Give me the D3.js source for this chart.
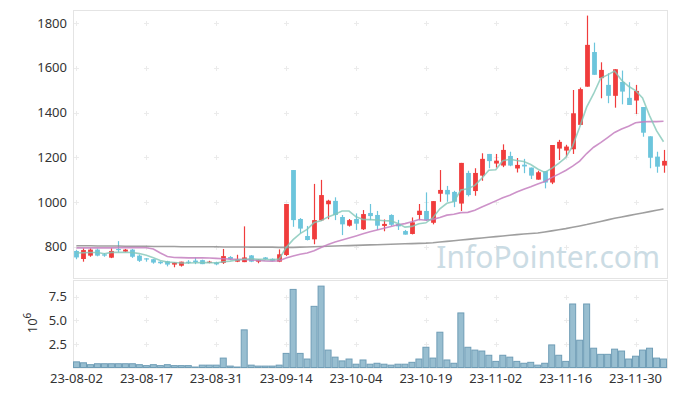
<!DOCTYPE html>
<html>
<head>
<meta charset="utf-8">
<script src="https://cdn.jsdelivr.net/npm/d3@7"></script>
<style>
  body { margin: 0; background: #fff; }
  svg { display: block; font-family: "Noto Sans", sans-serif; }
</style>
</head>
<body>
<svg id="chart" width="677" height="396"></svg>
<script>
const dates = [
  "23-08-02","23-08-03","23-08-04","23-08-07","23-08-08","23-08-09","23-08-10","23-08-11","23-08-14","23-08-16",
  "23-08-17","23-08-18","23-08-21","23-08-22","23-08-23","23-08-24","23-08-25","23-08-28","23-08-29","23-08-30",
  "23-08-31","23-09-01","23-09-04","23-09-05","23-09-06","23-09-07","23-09-08","23-09-11","23-09-12","23-09-13",
  "23-09-14","23-09-15","23-09-18","23-09-19","23-09-20","23-09-21","23-09-22","23-09-25","23-09-26","23-09-27",
  "23-10-04","23-10-05","23-10-06","23-10-10","23-10-11","23-10-12","23-10-13","23-10-16","23-10-17","23-10-18",
  "23-10-19","23-10-20","23-10-23","23-10-24","23-10-25","23-10-26","23-10-27","23-10-30","23-10-31","23-11-01",
  "23-11-02","23-11-03","23-11-06","23-11-07","23-11-08","23-11-09","23-11-10","23-11-13","23-11-14","23-11-15",
  "23-11-16","23-11-17","23-11-20","23-11-21","23-11-22","23-11-23","23-11-24","23-11-27","23-11-28","23-11-29",
  "23-11-30","23-12-01","23-12-04","23-12-05","23-12-06"
];

const opens = [
  781,745,760,787,766,751,790,778,787,760, 748,744,733,735,720,715,733,738,740,729,
  730,728,754,733,731,761,733,752,746,733, 763,1143,924,848,833,918,990,1005,933,894,
  924,878,951,942,893,942,902,870,857,942, 960,907,1037,1054,1045,993,1130,1049,1118,1215,
  1172,1163,1206,1150,1167,1154,1100,1138,1087,1239, 1230,1236,1345,1516,1671,1554,1524,1475,1537,1466,
  1454,1425,1294,1203,1163
];
const highs = [
  785,793,793,792,772,793,825,790,790,765, 749,745,735,737,731,733,740,751,742,737,
  733,790,758,764,891,763,744,754,748,788, 991,1143,928,893,1081,1099,1010,1021,942,924,
  949,964,991,960,922,945,920,875,931,991, 1043,1004,1143,1072,1050,1175,1140,1151,1218,1215,
  1215,1258,1225,1197,1193,1154,1140,1138,1255,1278, 1256,1501,1512,1834,1713,1625,1576,1594,1588,1536,
  1524,1425,1294,1225,1233
];
const lows = [
  744,733,755,757,755,749,775,776,750,732, 733,724,722,712,708,711,723,722,722,726,
  717,723,740,731,731,731,726,742,735,731, 758,889,860,828,811,915,923,919,852,890,
  875,875,919,875,869,893,875,854,855,919, 915,900,1001,1001,977,960,1025,1028,1095,1151,
  1154,1156,1160,1132,1129,1103,1100,1061,1080,1188, 1203,1215,1345,1516,1569,1464,1442,1422,1437,1434,
  1394,1292,1151,1131,1131
];
const closes = [
  752,785,787,760,760,781,786,787,755,737, 744,729,726,720,729,733,729,731,722,733,
  721,758,744,745,752,733,742,745,737,766, 991,919,881,830,919,1031,1006,942,900,919,
  903,946,937,894,902,898,891,854,909,961, 919,1004,1054,1034,1001,1175,1031,1130,1193,1183,
  1185,1233,1163,1166,1159,1118,1133,1087,1255,1269, 1248,1397,1505,1703,1569,1591,1475,1594,1494,1434,
  1497,1310,1198,1158,1184
];
// volume in millions of shares
const volumes = [
  0.6,0.5,0.3,0.4,0.4,0.4,0.4,0.4,0.4,0.3, 0.2,0.3,0.2,0.3,0.2,0.2,0.2,0.05,0.25,0.25,
  0.25,1.0,0.15,0.05,4.0,0.25,0.15,0.15,0.15,0.25, 1.5,8.3,1.5,0.9,6.5,8.65,1.85,1.1,0.7,0.9,
  0.35,0.8,0.35,0.45,0.35,0.25,0.35,0.35,0.55,0.9, 2.15,1.0,3.75,0.8,0.45,5.8,2.15,1.85,1.75,1.3,
  0.65,1.3,1.1,0.65,0.45,0.55,0.25,0.45,2.4,1.3, 0.65,6.75,2.9,6.75,2.05,1.4,1.4,1.95,1.75,0.9,
  1.2,1.85,2.05,1.0,0.9
];

// moving average lines
const ma5 = [
  772,773,774,774,768.8,774.6,774.8,774.8,773.8,769.2, 761.8,750.4,738.2,731.2,729.6,727.4,727.4,728.4,728.8,729.6,
  727.2,733,735.6,740.2,744,746.4,743.2,743.4,741.8,744.6, 796.2,831.6,858.8,877.4,908,916,933.4,945.6,959.6,959.6,
  934,922,921,919.8,916.4,915.4,904.4,887.8,890.8,902.6, 906.8,929.4,969.4,994.4,1002.4,1053.6,1059,1074.2,1106,1142.4,
  1144.4,1184.8,1191.4,1186,1181.2,1167.8,1147.8,1132.6,1150.4,1172.4, 1198.4,1251.2,1334.8,1424.4,1484.4,1553,1568.6,1586.4,1544.6,1517.6,
  1498.8,1465.8,1386.6,1319.4,1269.4
];
const ma20 = [
  795,795,795,795,795,795,796,796,796,796, 795,790,772,756,752,751,750,750,750,749.3,
  747.8,746.4,744.3,743.5,743.1,740.7,738.5,736.4,735.5,737, 749.3,758.8,766.6,772,781.6,796.5,810.3,820.9,829.8,839,
  848.2,857.6,867.2,874.7,882.2,890.4,897.9,903.3,911.9,921.7, 918.1,922.3,931,941.2,945.3,952.5,953.7,963.1,977.8,991,
  1005,1019.4,1030.7,1044.3,1057.2,1068.2,1080.3,1091.9,1109.2,1124.6, 1141.1,1160.7,1183.3,1216.7,1245.1,1265.9,1288.1,1311.3,1326.4,1338.9,
  1354.5,1358.4,1360.1,1359.7,1361
];
const ma120 = [
  804,804,804,803,803,803,803,802,802,802, 802,801,801,801,801,800,800,800,800,800,
  800,799,799,799,799,798,798,798,798,797, 797,797,798,799,800,801,802,803,804,805,
  806,807,808,809,810,811,812,813,814,815, 816,818,821,824,827,830,833,836,839,842,
  845,848,851,854,857,859,861,866,871,876, 881,887,893,899,906,913,920,927,933,939,
  945,951,957,963,969
];

const priceTicks = [800, 1000, 1200, 1400, 1600, 1800];
const volTicks = [2.5, 5.0, 7.5];
const tickDates = ["23-08-02","23-08-17","23-08-31","23-09-14","23-10-04","23-10-19","23-11-02","23-11-16","23-11-30"];

const svg = d3.select("#chart");
const left = 73, right = 667;
const priceTop = 10, priceBottom = 278;
const volTop = 280, volBottom = 367.5;

const x = d3.scaleBand().domain(dates).range([left, right]).padding(0);
const bw = x.bandwidth();
const cx = d => x(d) + bw / 2;

const yP = d3.scaleLinear().domain([660, 1859]).range([priceBottom, priceTop]);
const yV = d3.scaleLinear().domain([0, 9.3]).range([volBottom, volTop]);

const data = dates.map((d, i) => ({
  date: d, open: opens[i], high: highs[i], low: lows[i], close: closes[i], vol: volumes[i]
}));

const up = "#f03c3c", down = "#6cc5dc";

// frames
svg.append("rect")
  .attr("x", left + 0.5).attr("y", priceTop + 0.5)
  .attr("width", right - left).attr("height", priceBottom - priceTop)
  .attr("fill", "none").attr("stroke", "#e4e4e4");
svg.append("rect")
  .attr("x", left + 0.5).attr("y", volTop + 0.5)
  .attr("width", right - left).attr("height", volBottom - volTop)
  .attr("fill", "none").attr("stroke", "#e4e4e4");

// grid crosses
function crosses(yScale, ticks) {
  const g = svg.append("g").attr("stroke", "#ebebeb").attr("stroke-width", 1);
  tickDates.forEach(t => {
    ticks.forEach(v => {
      const px = Math.round(cx(t)) + 0.5, py = Math.round(yScale(v)) + 0.5;
      g.append("line").attr("x1", px - 2.5).attr("x2", px + 2.5).attr("y1", py).attr("y2", py);
      g.append("line").attr("x1", px).attr("x2", px).attr("y1", py - 2.5).attr("y2", py + 2.5);
    });
  });
}
crosses(yP, priceTicks);
crosses(yV, volTicks);

// watermark
svg.append("text")
  .attr("x", 660).attr("y", 268)
  .attr("text-anchor", "end")
  .attr("font-size", 30)
  .attr("fill", "#c3d6e0")
  .attr("opacity", 0.85)
  .text("InfoPointer.com");

// candles
const candles = svg.append("g");
candles.selectAll("line")
  .data(data)
  .enter()
  .append("line")
  .attr("x1", d => Math.round(cx(d.date)) + 0.5)
  .attr("x2", d => Math.round(cx(d.date)) + 0.5)
  .attr("y1", d => yP(d.high))
  .attr("y2", d => yP(d.low))
  .attr("stroke", d => d.close >= d.open ? up : down)
  .attr("stroke-width", 1.2);

candles.selectAll("rect")
  .data(data)
  .enter()
  .append("rect")
  .attr("x", d => Math.round(cx(d.date)) + 0.5 - 2.4)
  .attr("width", 4.8)
  .attr("y", d => yP(Math.max(d.open, d.close)))
  .attr("height", d => Math.max(1.2, Math.abs(yP(d.open) - yP(d.close))))
  .attr("fill", d => d.close >= d.open ? up : down);

// moving averages
function maLine(values, color, width, opacity) {
  const line = d3.line()
    .x((v, i) => cx(dates[i]))
    .y(v => yP(v));
  svg.append("path")
    .datum(values)
    .attr("d", line)
    .attr("fill", "none")
    .attr("stroke", color)
    .attr("stroke-width", width)
    .attr("opacity", opacity);
}
maLine(ma120, "#8e8e8e", 1.6, 0.85);
maLine(ma20, "#c47fbf", 1.6, 0.85);
maLine(ma5, "#82c7b8", 1.6, 0.8);

// volume bars
svg.append("g")
  .selectAll("rect")
  .data(data)
  .enter()
  .append("rect")
  .attr("x", d => x(d.date) + 0.5)
  .attr("width", bw - 1)
  .attr("y", d => yV(d.vol))
  .attr("height", d => volBottom - yV(d.vol))
  .attr("fill", "#98bed0")
  .attr("stroke", "#6f9db6")
  .attr("stroke-width", 1);

// axis labels
const labels = svg.append("g").attr("fill", "#333").attr("font-size", 13);
priceTicks.forEach(v => {
  labels.append("text")
    .attr("x", 67).attr("y", yP(v)).attr("dy", "0.35em")
    .attr("text-anchor", "end").text(v);
});
volTicks.forEach(v => {
  labels.append("text")
    .attr("x", 67).attr("y", yV(v)).attr("dy", "0.35em")
    .attr("text-anchor", "end").text(d3.format(".1f")(v));
});
tickDates.forEach(t => {
  labels.append("text")
    .attr("x", cx(t)).attr("y", 383)
    .attr("text-anchor", "middle").text(t);
});

const unit = labels.append("text")
  .attr("transform", "translate(37,323) rotate(-90)")
  .attr("text-anchor", "middle");
unit.append("tspan").text("10");
unit.append("tspan").attr("dy", -6).attr("font-size", 10).text("6");
</script>
</body>
</html>
